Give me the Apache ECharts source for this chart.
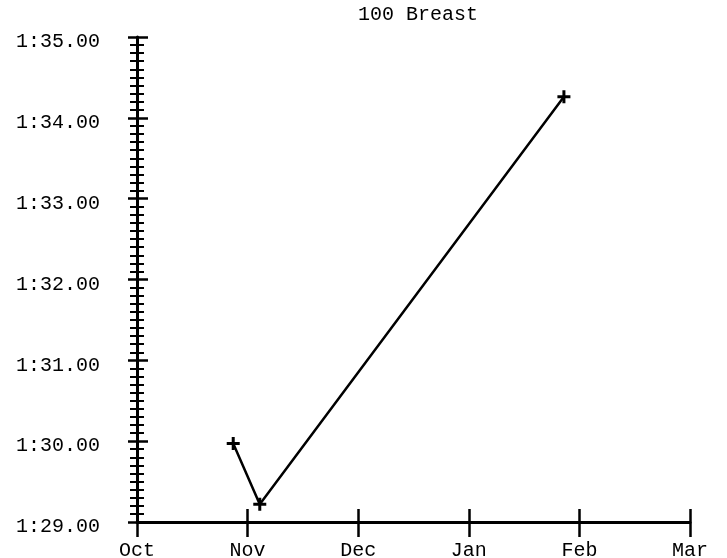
<!DOCTYPE html>
<html>
<head>
<meta charset="utf-8">
<script src="https://cdn.jsdelivr.net/npm/echarts@6/dist/echarts.min.js"></script>
<style>
html,body{margin:0;padding:0;background:#fff;}
#chart{width:727px;height:558px;}
</style>
</head>
<body>
<div id="chart"></div>
<script>
// month tick labels (x axis, one unit per month)
var months = ['Oct', 'Nov', 'Dec', 'Jan', 'Feb', 'Mar'];
// swim dates as month position (0 = 1 Oct)
var swimPos = [0.87, 1.11, 3.86];
// swim times in seconds
var swimTimes = [89.97, 89.22, 94.26];

var font = 'Liberation Mono, Courier New, monospace';

function fmtTime(v){
	var m = Math.floor(v / 60);
	var s = v - m * 60;
	var ss = s.toFixed(2);
	if (s < 10) ss = '0' + ss;
	return m + ':' + ss;
}

var plus = 'path://M5,0H8V5H13V8H8V13H5V8H0V5H5Z';

var points = [];
for (var i = 0; i < swimPos.length; i++) {
	points.push([swimPos[i], swimTimes[i]]);
}

var myChart = echarts.init(document.getElementById('chart'));
var option = {
	animation: false,
	backgroundColor: '#fff',
	title: {
		text: '100 Breast',
		left: 413,
		top: 0,
		textAlign: 'center',
		textStyle: {fontFamily: font, fontSize: 20, fontWeight: 'normal', color: '#000'}
	},
	grid: {left: 137, right: 37, top: 37, bottom: 36, outerBoundsMode: 'none', containLabel: false},
	xAxis: [{
		type: 'value',
		min: 0, max: months.length - 1, interval: 1,
		axisLine: {lineStyle: {color: '#000', width: 3}},
		axisTick: {show: true, length: 15, lineStyle: {color: '#000', width: 2.5}},
		axisLabel: {
			margin: 19, color: '#000', fontFamily: font, fontSize: 20,
			formatter: function(v){ return months[Math.round(v)]; }
		},
		splitLine: {show: false}
	}, {
		type: 'value', position: 'bottom',
		min: 0, max: months.length - 1, interval: 1,
		axisLine: {show: false},
		axisTick: {show: true, inside: true, length: 13, lineStyle: {color: '#000', width: 2.5}},
		axisLabel: {show: false},
		splitLine: {show: false}
	}],
	yAxis: [{
		type: 'value',
		min: 89, max: 95, interval: 1,
		axisLine: {show: true, lineStyle: {color: '#000', width: 3}},
		axisTick: {show: true, length: 9, lineStyle: {color: '#000', width: 2.5}},
		minorTick: {show: true, splitNumber: 10, length: 7, lineStyle: {color: '#000', width: 2}},
		axisLabel: {
			margin: 37, color: '#000', fontFamily: font, fontSize: 20,
			verticalAlign: 'top', lineHeight: 10,
			formatter: fmtTime
		},
		splitLine: {show: false}
	}, {
		type: 'value', position: 'left',
		min: 89, max: 95, interval: 1,
		axisLine: {show: false},
		axisTick: {show: true, inside: true, length: 11, lineStyle: {color: '#000', width: 2.5}},
		minorTick: {show: true, splitNumber: 10, length: 7, lineStyle: {color: '#000', width: 2}},
		axisLabel: {show: false},
		splitLine: {show: false}
	}],
	series: [{
		type: 'line',
		xAxisIndex: 0, yAxisIndex: 0,
		data: points,
		symbol: plus,
		symbolSize: 13,
		itemStyle: {color: '#000'},
		lineStyle: {color: '#000', width: 2.5}
	}]
};
myChart.setOption(option);
</script>
</body>
</html>
